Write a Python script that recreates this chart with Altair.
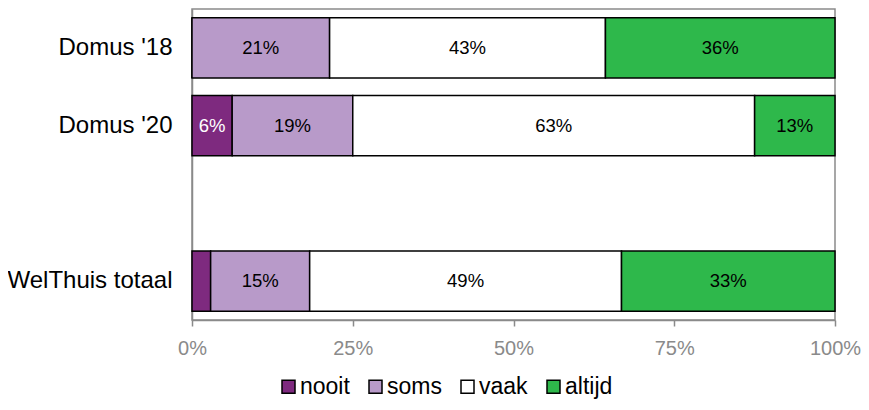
import altair as alt
import pandas as pd

# ---- data ----
categories = ["Domus '18", "Domus '20", "WelThuis totaal"]
y_domain = ["Domus '18", "Domus '20", " ", "WelThuis totaal"]
answers = ["nooit", "soms", "vaak", "altijd"]
colors = ["#7e2a7f", "#b89ac9", "#ffffff", "#2eb84b"]
text_colors = ["#ffffff", "#000000", "#000000", "#000000"]

nooit = [0.0, 6.25, 2.9]
soms = [21.4, 18.75, 15.4]
vaak = [42.9, 62.5, 48.5]
altijd = [35.7, 12.5, 33.2]

labels_nooit = ["", "6%", ""]
labels_soms = ["21%", "19%", "15%"]
labels_vaak = ["43%", "63%", "49%"]
labels_altijd = ["36%", "13%", "33%"]

x_ticks = [0, 25, 50, 75, 100]

FONT = "Liberation Sans"
GRAY = "#8a8a8a"

series = [nooit, soms, vaak, altijd]
labels = [labels_nooit, labels_soms, labels_vaak, labels_altijd]
rows = []
for ai, ans in enumerate(answers):
    for ci, cat in enumerate(categories):
        rows.append({
            "cat": cat,
            "answer": ans,
            "order": ai,
            "value": series[ai][ci],
            "label": labels[ai][ci],
            "tcolor": text_colors[ai],
        })
df = pd.DataFrame(rows)

base = alt.Chart(df).transform_stack(
    stack="value",
    groupby=["cat"],
    as_=["x0", "x1"],
    sort=[alt.SortField("order", order="ascending")],
).transform_calculate(mid="(datum.x0 + datum.x1) / 2")

y_scale = alt.Scale(domain=y_domain, paddingInner=0.228, paddingOuter=0.114)

y_enc = alt.Y(
    "cat:N",
    scale=y_scale,
    axis=alt.Axis(
        title=None,
        ticks=False,
        labelFont=FONT,
        labelFontSize=24,
        labelColor="#000000",
        labelPadding=20,
        domainColor=GRAY,
        domainWidth=1.5,
    ),
)

bars = base.mark_bar(stroke="#000000", strokeWidth=1.5).encode(
    x=alt.X(
        "x0:Q",
        scale=alt.Scale(domain=[0, 100], nice=False),
        axis=alt.Axis(
            title=None,
            values=x_ticks,
            labelExpr="datum.value + '%'",
            labelFont=FONT,
            labelFontSize=20,
            labelColor=GRAY,
            labelFlush=False,
            tickColor=GRAY,
            tickSize=6,
            tickWidth=1.5,
            domainColor=GRAY,
            domainWidth=1.5,
            grid=False,
            labelPadding=12,
        ),
    ),
    x2="x1:Q",
    y=y_enc,
    color=alt.Color(
        "answer:N",
        scale=alt.Scale(domain=answers, range=colors),
        legend=alt.Legend(
            title=None,
            orient="none",
            legendX=85,
            legendY=366,
            direction="horizontal",
            symbolType="square",
            symbolSize=169,
            symbolStrokeColor="#000000",
            symbolStrokeWidth=1.5,
            labelFont=FONT,
            labelFontSize=23,
            labelColor="#000000",
            labelOffset=0,
            columnPadding=14,
            padding=0,
        ),
    ),
)

texts = base.mark_text(font=FONT, fontSize=18.5).encode(
    x="mid:Q",
    y=alt.Y("cat:N", scale=y_scale),
    text="label:N",
    color=alt.Color("tcolor:N", scale=None),
)

chart = (
    alt.layer(bars, texts)
    .properties(
        width=643,
        height=311,
        autosize=alt.AutoSizeParams(type="none"),
        padding={"left": 184, "top": 1, "right": 26, "bottom": 82},
    )
    .configure_view(stroke=GRAY, strokeWidth=1.5)
)

chart.save("out.html", embed_options={"renderer": "svg", "actions": False})
